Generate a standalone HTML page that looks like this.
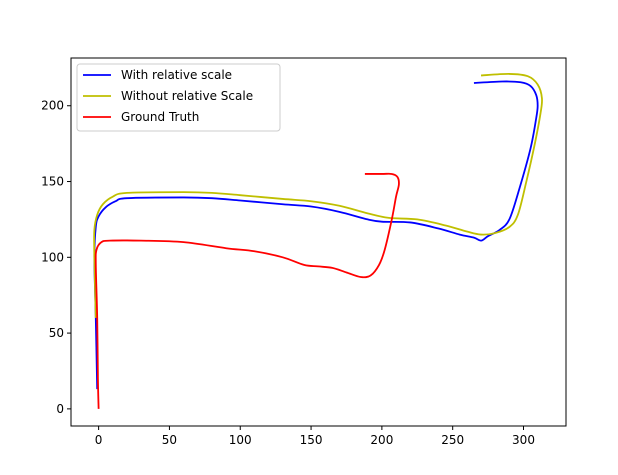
<!DOCTYPE html>
<html><head><meta charset="utf-8"><style>
body{margin:0;background:#fff;font-family:"Liberation Sans","DejaVu Sans",sans-serif}
svg text{font-family:"DejaVu Sans","Liberation Sans",sans-serif;font-size:12px}
</style></head><body>
<svg id="chart" width="618" height="470" xmlns="http://www.w3.org/2000/svg">
<rect width="618" height="470" fill="#fff"/>
<g id="plot"></g>
</svg>
<script>
const xTicks=[0,50,100,150,200,250,300];
const yTicks=[0,50,100,150,200];
const seriesNames=["With relative scale","Without relative Scale","Ground Truth"];
const seriesColors=["#0000ff","#bfbf00","#ff0000"];
const blueX=[-1,-2,-3,-2,0,5,12,20,60,80,100,130,150,170,190,200,220,240,255,265,270,275,283,290,297,305,309,310,309,305,298,285,265];
const blueY=[13,60,100,120,127,133,137,139,139.5,139,137.5,135,133.5,130,125,123.5,123,119,115,113,111,114,118,125,145,172,192,200,207,213,215.5,216,215];
const yellowX=[-2,-3,-3,-1,3,10,20,60,80,100,130,150,170,190,205,225,245,260,270,280,290,296,302,308,312,313,310,303,290,270];
const yellowY=[60,100,118,128,135,140,142.5,143,142.5,141,138.5,137,134,129,126,125,121,117,115,116,120,128,150,175,195,205,214,219.5,221,220];
const redX=[0,-0.5,-1,-2,-1.5,2,8,30,60,90,110,130,145,155,165,175,185,192,198,202,207,210,212,211,207,200,188];
const redY=[0,20,60,95,105,110,111,111,110,106,104,100,95,94,93,90,87,88,95,105,125,140,148,153,155,155,155];
const L=71,R=566,T=58,B=426,xmin=-19.5,xmax=330,ymin=-11.3,ymax=231.5;
const sx=v=>L+(v-xmin)/(xmax-xmin)*(R-L);
const sy=v=>B-(v-ymin)/(ymax-ymin)*(B-T);
const g=document.getElementById('plot');const NS="http://www.w3.org/2000/svg";
function mk(t,a){const e=document.createElementNS(NS,t);for(const k in a)e.setAttribute(k,a[k]);g.appendChild(e);return e;}
function smooth(xs,ys){const p=xs.map((x,j)=>[sx(x),sy(ys[j])]);let d='M'+p[0][0]+','+p[0][1];
for(let i=0;i<p.length-1;i++){const p0=p[i-1]||p[i],p1=p[i],p2=p[i+1],p3=p[i+2]||p2;
const c1=[p1[0]+(p2[0]-p0[0])/6,p1[1]+(p2[1]-p0[1])/6],c2=[p2[0]-(p3[0]-p1[0])/6,p2[1]-(p3[1]-p1[1])/6];
d+=' C'+c1[0]+','+c1[1]+' '+c2[0]+','+c2[1]+' '+p2[0]+','+p2[1];}return d;}
const data=[[blueX,blueY],[yellowX,yellowY],[redX,redY]];
const sn=['series-with-relative-scale','series-without-relative-scale','series-ground-truth'];
data.forEach((d,i)=>{const p=mk('path',{d:smooth(d[0],d[1]),fill:'none',stroke:seriesColors[i],'stroke-width':1.8,'stroke-linejoin':'round'});

});
const fr=mk('rect',{x:L,y:T,width:R-L,height:B-T,fill:'none',stroke:'#000','stroke-width':1});


xTicks.forEach(v=>{const x=sx(v);mk('line',{x1:x,x2:x,y1:B,y2:B+4,stroke:'#000'});const t=mk('text',{x:x,y:B+18,'text-anchor':'middle'});t.textContent=v;

});
yTicks.forEach(v=>{const y=sy(v);mk('line',{x1:L-4,x2:L,y1:y,y2:y,stroke:'#000'});const t=mk('text',{x:L-7,y:y+4,'text-anchor':'end'});t.textContent=v;

});
const lg=mk('rect',{x:77,y:64,width:203,height:67,rx:3,fill:'#fff','fill-opacity':0.8,stroke:'#ccc'});


seriesNames.forEach((n,i)=>{const y=75+i*21;mk('line',{x1:83,x2:111,y1:y,y2:y,stroke:seriesColors[i],'stroke-width':1.8});const t=mk('text',{x:121,y:y+4});t.textContent=n;

});
</script>
</body></html>
